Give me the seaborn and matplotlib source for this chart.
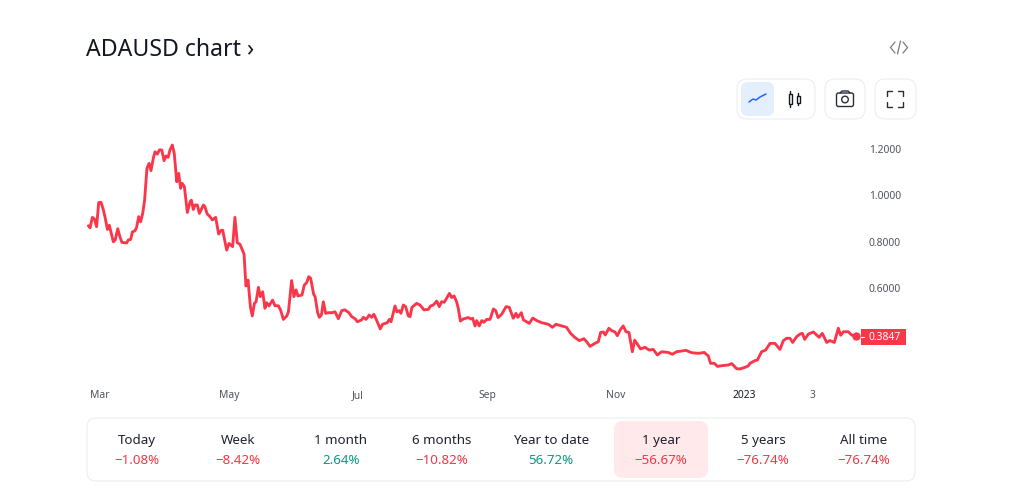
import matplotlib
matplotlib.use("Agg")
import matplotlib.pyplot as plt
from matplotlib.patches import FancyBboxPatch, Rectangle, Circle
import numpy as np
import pandas as pd
import seaborn as sns

TITLE = "ADAUSD chart ›"
START = pd.Timestamp("2022-03-01")

days_a = [-5.5,-4.7,-3.6,-2.7,-1.6,-0.6,0.5,1.6,2.5,3.5,4.4,5.5,6.3,7.2,8.4,9.5,10.4,12.6,13.4,14.5,15.3,16.6,17.3,18.3,19.2,20.2,21.1,22.2,23.2,24.1,25.2,26.0,27.1,28.1,29.2,30.3,31.2,32.2,33.1,34.2,35.1,36.3,37.2,38.1,38.9,39.9,41.3,42.6,43.2,44.1,44.9,46.0,47.0,48.9,49.6,50.7,51.7,53.1,54.7,56.1,57.1,58.0,59.9,61.0,62.7,63.8,64.9,66.2,68.1,69.0,70.0,71.1,72.0,73.0,73.8,74.9,75.8,76.9,78.0,78.8,79.9,81.6,82.7,84.3,85.4,86.7,88.3,89.1,90.6,91.7,92.7,93.6,95.5,96.6,97.7,98.7,99.6,101.0,101.7,102.9,103.7,104.7,105.6,106.7,108.0]
prices_a = [.870,.861,.906,.900,.866,.970,.970,.938,.902,.854,.872,.830,.801,.809,.857,.820,.798,.796,.809,.811,.843,.849,.863,.909,.887,.923,.981,1.117,1.138,1.107,1.160,1.188,1.178,1.196,1.196,1.150,1.170,1.164,1.196,1.217,1.181,1.059,1.095,1.031,1.052,1.038,.927,.973,.980,.940,.959,.959,.923,.959,.952,.920,.912,.895,.906,.834,.849,.851,.765,.794,.780,.906,.797,.790,.748,.611,.636,.522,.482,.536,.543,.605,.565,.586,.515,.539,.525,.550,.526,.526,.507,.467,.482,.500,.634,.565,.594,.568,.572,.615,.625,.651,.644,.576,.565,.496,.476,.486,.543,.493,.496]

days_b = [109.8,111.1,112.7,114.3,115.8,117.7,119.0,120.6,121.7,123.7,124.5,125.8,127.3,128.4,129.5,131.1,132.5,133.6,135.8,136.8,137.6,139.5,140.4,141.5,142.3,143.4,144.5,145.8,146.6,147.5,149.7,151.3,153.2,155.2,156.3,157.6,159.2,160.4,161.5,162.8,165.2,166.3,167.4,168.6,169.4,170.4,171.8,174.2,175.3,176.2,177.3,178.1,179.3,180.5,181.6,182.8,184.4,186.0,187.1,188.2,189.9,192.0,193.5,195.4,196.7,197.6,199.2,200.2,201.7,203.0,204.6,206.5,208.8,212.0,213.9,215.6,218.3,220.6,222.5,224.6,226.6,228.8,230.1,231.7,234.0,235.6,236.7,238.0,238.9,240.6,241.9,243.5,244.6]
prices_b = [.496,.500,.470,.505,.508,.496,.479,.470,.457,.465,.476,.467,.486,.476,.489,.457,.426,.446,.453,.467,.457,.525,.500,.505,.493,.529,.522,.482,.479,.519,.536,.529,.508,.510,.525,.529,.546,.522,.543,.541,.579,.561,.568,.543,.515,.460,.469,.475,.469,.472,.439,.462,.439,.462,.455,.467,.467,.512,.505,.475,.489,.522,.519,.472,.493,.476,.496,.465,.457,.450,.473,.462,.453,.446,.433,.446,.439,.433,.407,.389,.376,.384,.371,.351,.364,.371,.411,.413,.400,.429,.419,.413,.397]

days_c = [245.9,247.4,248.7,250.1,251.7,252.8,254.1,255.6,257.7,259.7,261.6,263.5,265.6,268.7,270.6,272.6,275.0,277.0,279.7,282.9,285.7,287.6,288.7,290.5,291.9,293.9,297.1,298.7,301.0,302.6,305.0,306.5,307.3,309.7,310.8,312.8,314.7,316.8,319.1,321.5,323.1,324.7,326.2,327.5,329.4,331.0,332.1,333.2,334.9,337.3,340.0,341.5,343.6,345.1,347.2,349.1,350.2,351.5,353.8,355.4,357.3]
prices_c = [.421,.439,.414,.411,.328,.378,.360,.340,.347,.335,.338,.314,.328,.325,.317,.328,.331,.334,.324,.321,.325,.310,.278,.278,.265,.268,.271,.277,.255,.254,.261,.267,.278,.290,.292,.328,.335,.364,.364,.338,.376,.386,.386,.368,.393,.404,.407,.381,.404,.413,.390,.407,.368,.376,.368,.429,.399,.414,.414,.400,.394]

y_ticks = [1.2, 1.0, 0.8, 0.6]
x_tick_days = [0, 61, 122, 183, 244, 304.5, 337]
x_tick_labels = ["Mar", "May", "Jul", "Sep", "Nov", "2023", "3"]
last_label = "0.3847"

stat_names = ["Today", "Week", "1 month", "6 months", "Year to date", "1 year", "5 years", "All time"]
stat_values = ["−1.08%", "−8.42%", "2.64%", "−10.82%", "56.72%", "−56.67%", "−76.74%", "−76.74%"]
stat_centers = [137, 238, 341, 442, 551, 661, 763, 864]

RED = "#F23645"
LINE = "#F9364A"
GREEN = "#089981"
DARK = "#131722"
BORDER = "#E9EBF0"

sns.set_theme(style="white")
plt.rcParams["font.family"] = ["Noto Sans", "DejaVu Sans"]

W, H = 1024, 497
fig = plt.figure(figsize=(W / 100, H / 100), dpi=100, facecolor="white")

ui = fig.add_axes([0, 0, 1, 1], zorder=1)
ui.set_xlim(0, W)
ui.set_ylim(H, 0)
ui.axis("off")


def box(x0, y0, x1, y1, r, fc="white", ec=BORDER, lw=0.7):
    ui.add_patch(FancyBboxPatch((x0 + r, y0 + r), x1 - x0 - 2 * r, y1 - y0 - 2 * r,
                                boxstyle=f"round,pad={r},rounding_size={r}",
                                fc=fc, ec=ec, lw=lw))


ui.text(86, 50.5, TITLE, fontsize=16.6, fontweight=500, color=DARK, va="center", ha="left")
ui.plot([895, 890.5, 895], [42, 47.5, 53], color="#787B86", lw=0.9)
ui.plot([903, 907.5, 903], [42, 47.5, 53], color="#787B86", lw=0.9)
ui.plot([897.5, 900.5], [54, 41], color="#787B86", lw=0.9)

# toolbar
box(737, 79, 815, 119, 10)
box(741, 82, 774, 116, 7, fc="#E3EFFD", ec="none", lw=0)
box(825, 79, 865, 119, 10)
box(875, 79, 916, 119, 10)
ui.plot([749, 753, 756, 760, 766], [102, 99, 100, 97, 94], color="#2962FF", lw=1.1)
for cx, y0, y1, ww0, ww1 in [(790, 94, 104, 91, 107), (798, 96, 103, 93, 105)]:
    ui.plot([cx, cx], [ww0, ww1], color=DARK, lw=1)
    ui.add_patch(Rectangle((cx - 1.5, y0), 3, y1 - y0, fc="white", ec=DARK, lw=1, zorder=3))
box(836.5, 93, 853.5, 106.5, 2, fc="none", ec="#2A2E39", lw=1.0)
ui.plot([840, 842, 848, 850], [93, 91, 91, 93], color="#2A2E39", lw=1.0)
ui.add_patch(Circle((845, 99.5), 3.3, fc="none", ec="#2A2E39", lw=1.0))
for sx, sy, cxx, cyy in [(-1, -1, 887, 91), (1, -1, 903, 91), (-1, 1, 887, 107), (1, 1, 903, 107)]:
    ui.plot([cxx, cxx, cxx - sx * 5], [cyy - sy * 5, cyy, cyy], color="#2A2E39", lw=1.0)

# performance strip
box(87, 418, 915, 481, 9)
box(614, 421, 708, 478, 9, fc="#FFE9EB", ec="none", lw=0)
for name, val, cx in zip(stat_names, stat_values, stat_centers):
    ui.text(cx, 440.5, name, fontsize=9.6, fontweight=500, color="#1E222D", ha="center", va="center")
    ui.text(cx, 460.5, val, fontsize=9.6, fontweight=500, color=GREEN if not val.startswith("−") else RED,
            ha="center", va="center")

# chart
L, R, T, B = 80, 862, 130, 385
ax = fig.add_axes([L / W, 1 - B / H, (R - L) / W, (B - T) / H], zorder=2)
ax.patch.set_alpha(0)

days = np.array(days_a + days_b + days_c)
prices = np.array(prices_a + prices_b + prices_c)
frame = pd.DataFrame({"date": START + pd.to_timedelta(days, unit="D"), "price": prices})
sns.lineplot(data=frame, x="date", y="price", color=LINE, lw=2.05, ax=ax,
             estimator=None, sort=False, solid_joinstyle="round")
ax.plot(frame["date"].iloc[-1], frame["price"].iloc[-1], "o", ms=6, color=LINE, mec="none")

px_per_day = 2.115
ax.set_xlim(START + pd.Timedelta(days=(L - 100) / px_per_day), START + pd.Timedelta(days=(R - 100) / px_per_day))
ax.set_ylim(1.2 - (B - 149) / 232.5, 1.2 - (T - 149) / 232.5)
ax.set_xlabel("")
ax.set_ylabel("")
sns.despine(ax=ax, left=True, bottom=True, right=True, top=True)

ax.yaxis.tick_right()
ax.set_yticks(y_ticks, [f"{v:.4f}" for v in y_ticks])
ax.set_xticks([START + pd.Timedelta(days=d) for d in x_tick_days], x_tick_labels)
ax.tick_params(axis="y", length=0, pad=5, labelsize=7.4, labelcolor="#50535E")
ax.tick_params(axis="x", length=0, pad=9.4, labelsize=7.4, labelcolor="#50535E")
for lab in ax.get_xticklabels():
    lab.set_va("baseline")
    if lab.get_text() == "2023":
        lab.set_fontweight("bold")
        lab.set_color(DARK)

# last value tag
ui.add_patch(Rectangle((861, 329), 45, 16, fc="#F9364A", ec="none", zorder=4))
ui.plot([861, 864], [337, 337], color="white", lw=0.8, zorder=5)
ui.text(884.5, 337, last_label, fontsize=7.4, color="white", ha="center", va="center", zorder=5)

fig.savefig("out.png", dpi=100, facecolor="white")
